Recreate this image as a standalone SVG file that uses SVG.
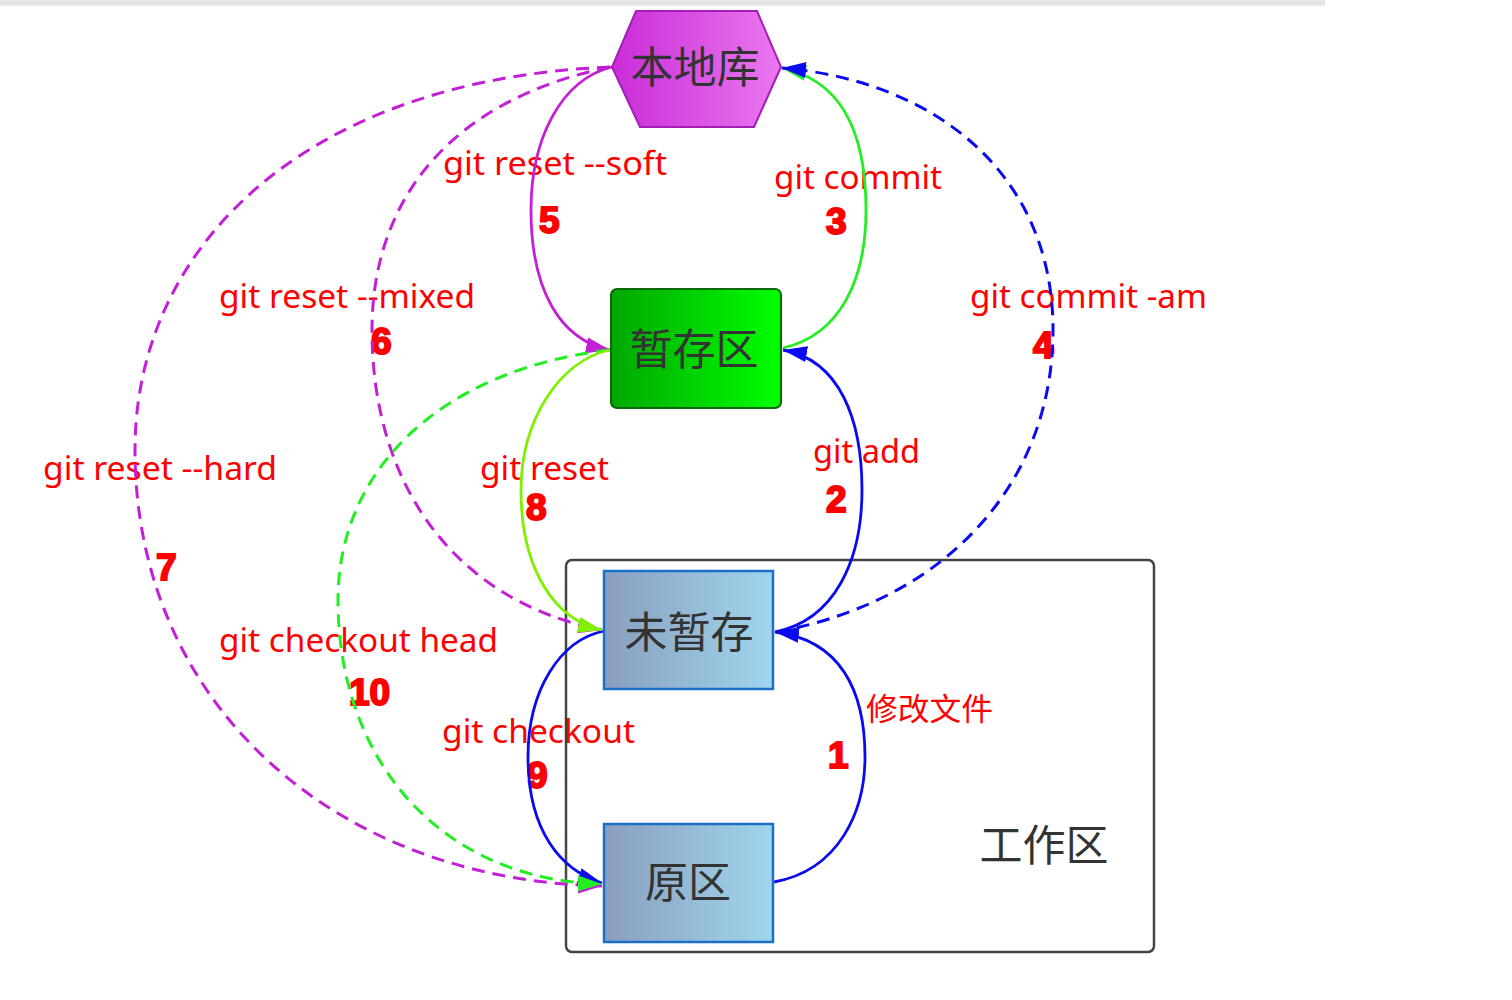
<svg xmlns="http://www.w3.org/2000/svg" width="1512" height="1000" viewBox="0 0 1512 1000">
<style>
.lbl{font-family:"Noto Sans","Open Sans","Liberation Sans",sans-serif;font-size:32px;fill:#ff0000}
.num{font-family:"Liberation Sans","DejaVu Sans",sans-serif;font-weight:bold;font-size:37px;fill:#ff0000;stroke:#ff0000;stroke-width:2}
.nt{font-family:"Noto Sans CJK SC","Noto Sans",sans-serif;font-size:43px;fill:#333333;text-anchor:middle}
.cn{font-family:"Noto Sans CJK SC","Noto Sans",sans-serif;font-size:31px;fill:#ff0000}
.e{fill:none;stroke-width:2.8}
.d{stroke-dasharray:13 8;stroke-width:3}
</style>
<defs>
<linearGradient id="gHex" x1="0" y1="0" x2="1" y2="0"><stop offset="0" stop-color="#c92cd8"/><stop offset="1" stop-color="#eb78ef"/></linearGradient>
<linearGradient id="gGreen" x1="0" y1="0" x2="1" y2="0"><stop offset="0" stop-color="#00a800"/><stop offset="1" stop-color="#00ff00"/></linearGradient>
<linearGradient id="gBlue" x1="0" y1="0" x2="1" y2="0"><stop offset="0" stop-color="#8a9ebf"/><stop offset="1" stop-color="#9fd6ed"/></linearGradient>
<linearGradient id="gShadow" x1="0" y1="0" x2="0" y2="1"><stop offset="0" stop-color="#d8d8d8"/><stop offset="1" stop-color="#ffffff" stop-opacity="0"/></linearGradient>
<marker id="aM" markerUnits="userSpaceOnUse" markerWidth="26" markerHeight="18" refX="24" refY="8" orient="auto"><path d="M0,0 L24,8 L0,16 Z" fill="#c21fd6"/></marker>
<marker id="aG" markerUnits="userSpaceOnUse" markerWidth="26" markerHeight="18" refX="24" refY="8" orient="auto"><path d="M0,0 L24,8 L0,16 Z" fill="#22ee22"/></marker>
<marker id="aL" markerUnits="userSpaceOnUse" markerWidth="26" markerHeight="18" refX="24" refY="8" orient="auto"><path d="M0,0 L24,8 L0,16 Z" fill="#80f000"/></marker>
<marker id="aB" markerUnits="userSpaceOnUse" markerWidth="26" markerHeight="18" refX="24" refY="8" orient="auto"><path d="M0,0 L24,8 L0,16 Z" fill="#0a0af0"/></marker>
</defs>
<rect x="0" y="0" width="1512" height="1000" fill="#ffffff"/>
<rect x="0" y="0" width="1325" height="3" fill="#e6e6e6"/>
<rect x="0" y="3" width="1325" height="6" fill="url(#gShadow)"/>

<g id="cluster-workspace">
<rect x="566" y="560" width="588" height="392" rx="6" fill="none" stroke="#444444" stroke-width="2.5"/>
<text class="nt" x="1044" y="861">工作区</text>
</g>

<g id="labels">
<text class="lbl" x="443" y="175" textLength="224" lengthAdjust="spacingAndGlyphs">git reset --soft</text>
<text class="num" x="539" y="233">5</text>
<text class="lbl" x="774" y="189" textLength="168" lengthAdjust="spacingAndGlyphs">git commit</text>
<text class="num" x="826" y="234">3</text>
<text class="lbl" x="219" y="308" textLength="256" lengthAdjust="spacingAndGlyphs">git reset --mixed</text>
<text class="num" x="371" y="354">6</text>
<text class="lbl" x="970" y="308" textLength="237" lengthAdjust="spacingAndGlyphs">git commit -am</text>
<text class="num" x="1033" y="358">4</text>
<text class="lbl" x="43" y="480" textLength="234" lengthAdjust="spacingAndGlyphs">git reset --hard</text>
<text class="num" x="156" y="580">7</text>
<text class="lbl" x="480" y="480" textLength="129" lengthAdjust="spacingAndGlyphs">git reset</text>
<text class="num" x="526" y="520">8</text>
<text class="lbl" x="813" y="463" textLength="107" lengthAdjust="spacingAndGlyphs">git add</text>
<text class="num" x="826" y="512">2</text>
<text class="lbl" x="219" y="652" textLength="279" lengthAdjust="spacingAndGlyphs">git checkout head</text>
<text class="num" x="349" y="705">10</text>
<text class="cn" x="866" y="720" textLength="127" lengthAdjust="spacingAndGlyphs">修改文件</text>
<text class="num" x="828" y="768">1</text>
<text class="lbl" x="442" y="743" textLength="193" lengthAdjust="spacingAndGlyphs">git checkout</text>
<text class="num" x="527" y="788">9</text>
</g>

<g id="connectors">
<path class="e d" stroke="#c21fd6" d="M610,67 C300,80 135,250 135,450 C135,700 330,880 602,886" marker-end="url(#aM)"/>
<path class="e d" stroke="#c21fd6" d="M610,67 C450,100 372,200 372,330 C372,480 450,600 602,630" marker-end="url(#aM)"/>
<path class="e" stroke="#c21fd6" d="M612,67 C560,80 531,140 531,210 C531,290 560,340 610,350" marker-end="url(#aM)"/>
<path class="e" stroke="#0a0af0" d="M604,631 C560,640 528,690 528,757 C528,830 560,870 602,883" marker-end="url(#aB)"/>
<path class="e d" stroke="#22ee22" d="M609,350 C440,370 338,470 338,600 C338,760 440,880 602,884" marker-end="url(#aG)"/>
<path class="e" stroke="#80f000" d="M610,350 C560,360 521,420 521,490 C521,570 555,620 602,630" marker-end="url(#aL)"/>
<path class="e" stroke="#22ee22" d="M783,348 C840,335 866,280 866,210 C866,130 840,80 782,68" marker-end="url(#aG)"/>
<path class="e" stroke="#0a0af0" d="M774,882 C840,870 865,810 865,757 C865,690 840,640 775,632" marker-end="url(#aB)"/>
<path class="e" stroke="#0a0af0" d="M775,632 C835,620 862,560 862,490 C862,420 840,360 783,350" marker-end="url(#aB)"/>
<path class="e d" stroke="#0a0af0" d="M776,632 C950,600 1053,480 1053,330 C1053,170 930,80 782,68" marker-end="url(#aB)"/>
</g>

<g id="node-local-repo">
<polygon points="636,11 757,11 781,67 754,127 640,127 612,67" fill="url(#gHex)" stroke="#a21eb4" stroke-width="2"/>
<text class="nt" x="695" y="83">本地库</text>
</g>
<g id="node-staging">
<rect x="611" y="289" width="170" height="119" rx="6" fill="url(#gGreen)" stroke="#0a6a0a" stroke-width="2.2"/>
<text class="nt" x="694" y="365">暂存区</text>
</g>
<g id="node-unstaged">
<rect x="604" y="571" width="169" height="118" fill="url(#gBlue)" stroke="#1a6fc8" stroke-width="2.5"/>
<text class="nt" x="689" y="648">未暂存</text>
</g>
<g id="node-original">
<rect x="604" y="824" width="169" height="118" fill="url(#gBlue)" stroke="#1a6fc8" stroke-width="2.5"/>
<text class="nt" x="688" y="898">原区</text>
</g>
</svg>
